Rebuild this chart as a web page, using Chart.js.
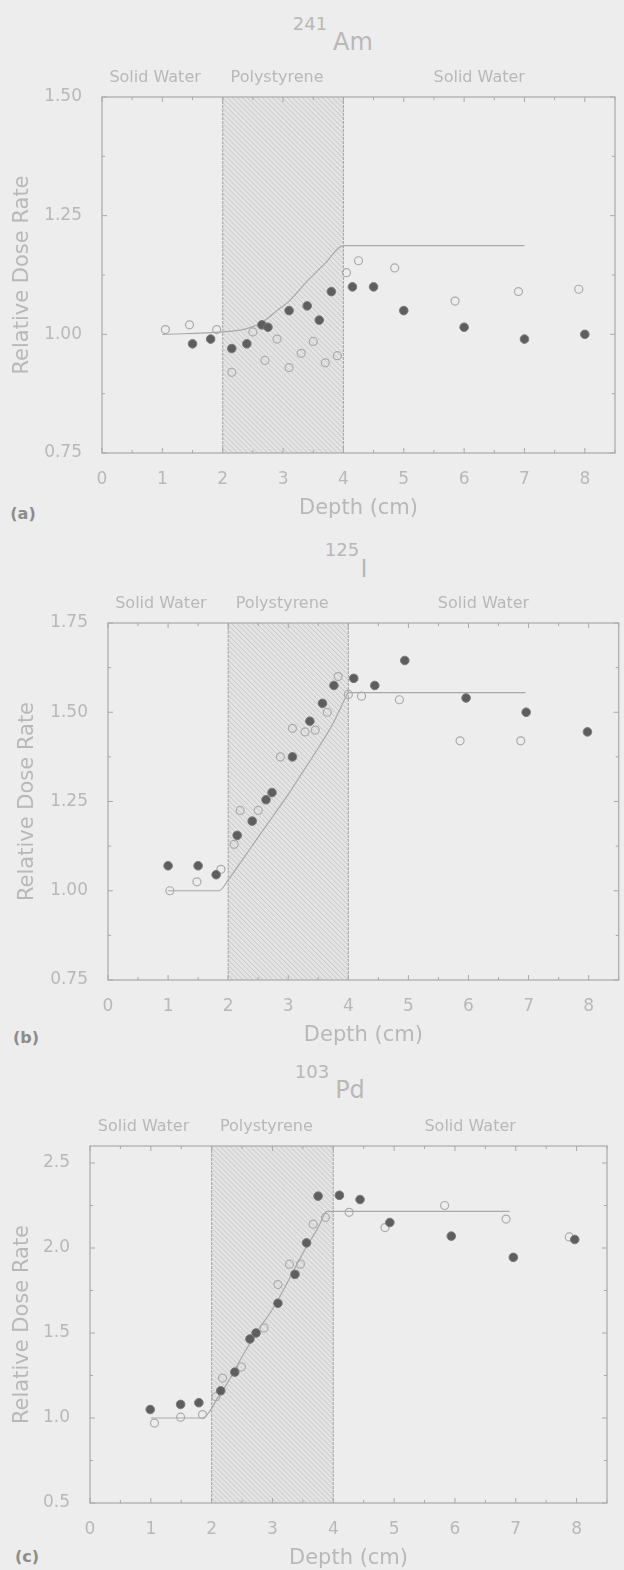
<!DOCTYPE html>
<html>
<head>
<meta charset="utf-8">
<script src="https://cdn.jsdelivr.net/npm/chart.js@4.4.1/dist/chart.umd.min.js"></script>
<style>
  html, body { margin: 0; padding: 0; }
  body {
    width: 624px; height: 1570px; overflow: hidden; position: relative;
    background: #ededed; font-family: "DejaVu Sans", sans-serif; color: #b8b8b8;
  }
  canvas { position: absolute; left: 0; }
  .txt { position: absolute; transform: translate(-50%, -50%); white-space: nowrap; line-height: 1; }
  .iso { font-size: 18px; }
  .sym { font-size: 24px; }
  .letter { font-size: 16px; font-weight: bold; color: #8c8c8c; }
</style>
</head>
<body>
<div class="txt iso" style="left:310px;top:24px">241</div>
<div class="txt sym" style="left:353px;top:42px">Am</div>
<div class="txt letter" style="left:23px;top:514px">(a)</div>

<div class="txt iso" style="left:342px;top:550px">125</div>
<div class="txt sym" style="left:364px;top:569px">I</div>
<div class="txt letter" style="left:26px;top:1038px">(b)</div>

<div class="txt iso" style="left:312px;top:1072px">103</div>
<div class="txt sym" style="left:350px;top:1090px">Pd</div>
<div class="txt letter" style="left:27px;top:1557px">(c)</div>

<canvas id="chartA" width="624" height="463" style="top:60px"></canvas>
<canvas id="chartB" width="624" height="460" style="top:590px"></canvas>
<canvas id="chartC" width="624" height="463" style="top:1110px"></canvas>

<script>
// region layout shared by all three phantoms
const regionNames = ["Solid Water", "Polystyrene", "Solid Water"];
const regionLabelDepth = [0.88, 2.9, 6.25];
const polystyreneBand = [2, 4];

// 241Am
const amFilledDepth = [1.5, 1.8, 2.15, 2.4, 2.65, 2.75, 3.1, 3.4, 3.6, 3.8, 4.15, 4.5, 5.0, 6.0, 7.0, 8.0];
const amFilledDose = [0.98, 0.99, 0.97, 0.98, 1.02, 1.015, 1.05, 1.06, 1.03, 1.09, 1.10, 1.10, 1.05, 1.015, 0.99, 1.00];
const amOpenDepth = [1.05, 1.45, 1.9, 2.15, 2.5, 2.7, 2.9, 3.1, 3.3, 3.5, 3.7, 3.9, 4.05, 4.25, 4.85, 5.85, 6.9, 7.9];
const amOpenDose = [1.01, 1.02, 1.01, 0.92, 1.005, 0.945, 0.99, 0.93, 0.96, 0.985, 0.94, 0.955, 1.13, 1.155, 1.14, 1.07, 1.09, 1.095];
const amCurveDepth = [1.0, 2.0, 2.4, 2.65, 2.9, 3.1, 3.4, 3.7, 4.0, 7.0];
const amCurveDose = [1.0, 1.005, 1.012, 1.025, 1.05, 1.07, 1.112, 1.15, 1.187, 1.187];

// 125I
const iFilledDepth = [1.0, 1.5, 1.8, 2.15, 2.4, 2.63, 2.73, 3.07, 3.36, 3.57, 3.76, 4.09, 4.44, 4.94, 5.96, 6.96, 7.98];
const iFilledDose = [1.07, 1.07, 1.045, 1.155, 1.195, 1.255, 1.275, 1.375, 1.475, 1.525, 1.575, 1.595, 1.575, 1.645, 1.54, 1.50, 1.445];
const iOpenDepth = [1.03, 1.48, 1.88, 2.1, 2.2, 2.5, 2.87, 3.07, 3.28, 3.45, 3.65, 3.83, 4.0, 4.22, 4.85, 5.86, 6.87];
const iOpenDose = [1.0, 1.025, 1.06, 1.13, 1.225, 1.225, 1.375, 1.455, 1.445, 1.45, 1.50, 1.60, 1.55, 1.545, 1.535, 1.42, 1.42];
const iCurveDepth = [1.0, 1.85, 2.0, 2.25, 2.5, 2.75, 3.0, 3.25, 3.5, 3.75, 3.95, 4.0, 6.95];
const iCurveDose = [1.0, 1.0, 1.03, 1.09, 1.15, 1.21, 1.27, 1.335, 1.40, 1.47, 1.54, 1.555, 1.555];

// 103Pd
const pdFilledDepth = [0.99, 1.49, 1.79, 2.15, 2.38, 2.63, 2.73, 3.09, 3.37, 3.56, 3.75, 4.10, 4.44, 4.93, 5.94, 6.96, 7.97];
const pdFilledDose = [1.05, 1.08, 1.09, 1.16, 1.27, 1.465, 1.50, 1.675, 1.845, 2.03, 2.305, 2.31, 2.285, 2.15, 2.07, 1.945, 2.05];
const pdOpenDepth = [1.06, 1.49, 1.85, 2.07, 2.18, 2.49, 2.86, 3.09, 3.28, 3.46, 3.67, 3.87, 4.1, 4.26, 4.85, 5.83, 6.84, 7.88];
const pdOpenDose = [0.97, 1.005, 1.02, 1.125, 1.235, 1.30, 1.53, 1.785, 1.905, 1.905, 2.14, 2.18, 2.31, 2.21, 2.12, 2.25, 2.17, 2.065];
const pdCurveDepth = [1.0, 1.85, 1.95, 2.1, 2.25, 2.5, 2.75, 3.0, 3.25, 3.5, 3.75, 3.9, 4.0, 6.9];
const pdCurveDose = [1.0, 1.0, 1.03, 1.12, 1.2, 1.36, 1.51, 1.64, 1.80, 1.97, 2.12, 2.215, 2.215, 2.215];

const TEXT = "#b8b8b8";
const LINE = "#a9a9a9";

const toPoints = (xs, ys) => xs.map((x, i) => ({ x: x, y: ys[i] }));

// hatched polystyrene slab, frame box, inward ticks, region names
const panelFrame = {
    id: "panelFrame",
    beforeDatasetsDraw(chart, args, opts) {
        const ctx = chart.ctx;
        const a = chart.chartArea;
        const xs = chart.scales.x, ys = chart.scales.y;
        const x1 = xs.getPixelForValue(opts.band[0]);
        const x2 = xs.getPixelForValue(opts.band[1]);
        const h = a.bottom - a.top;

        ctx.save();
        ctx.beginPath();
        ctx.rect(x1, a.top, x2 - x1, h);
        ctx.clip();
        ctx.fillStyle = "#e4e4e4";
        ctx.fillRect(x1, a.top, x2 - x1, h);
        ctx.strokeStyle = "#c2c2c2";
        ctx.lineWidth = 0.9;
        ctx.beginPath();
        for (let s = x1 - h; s < x2; s += 5) {
            ctx.moveTo(s, a.top);
            ctx.lineTo(s + h, a.bottom);
        }
        ctx.stroke();
        ctx.restore();

        ctx.save();
        ctx.strokeStyle = "#a3a3a3";
        ctx.lineWidth = 1;
        ctx.setLineDash([3, 1]);
        ctx.beginPath();
        ctx.moveTo(x1, a.top); ctx.lineTo(x1, a.bottom);
        ctx.moveTo(x2, a.top); ctx.lineTo(x2, a.bottom);
        ctx.stroke();
        ctx.setLineDash([]);

        ctx.strokeStyle = LINE;
        ctx.lineWidth = 1.2;
        ctx.strokeRect(a.left, a.top, a.right - a.left, h);

        // inward tick marks
        ctx.lineWidth = 1;
        ctx.beginPath();
        const ystep = opts.yStep / 2;
        for (let i = 0, v = ys.min; v <= ys.max + 1e-9; i++, v = ys.min + i * ystep) {
            const p = ys.getPixelForValue(v);
            const len = i % 2 === 0 ? 5 : 3;
            ctx.moveTo(a.left, p); ctx.lineTo(a.left + len, p);
            ctx.moveTo(a.right, p); ctx.lineTo(a.right - len, p);
        }
        for (let i = 0, v = 0; v <= xs.max + 1e-9; i++, v = i * 0.5) {
            const p = xs.getPixelForValue(v);
            const len = i % 2 === 0 ? 5 : 3;
            ctx.moveTo(p, a.bottom); ctx.lineTo(p, a.bottom - len);
            ctx.moveTo(p, a.top); ctx.lineTo(p, a.top + len);
        }
        ctx.stroke();

        // region names above the box
        ctx.fillStyle = TEXT;
        ctx.font = "16px 'DejaVu Sans'";
        ctx.textAlign = "center";
        ctx.textBaseline = "middle";
        regionNames.forEach((name, i) => {
            ctx.fillText(name, xs.getPixelForValue(opts.labelDepth[i]), a.top - 19);
        });
        ctx.restore();
    }
};

function makePanel(id, cfg) {
    const canvas = document.getElementById(id);
    return new Chart(canvas, {
        type: "scatter",
        data: {
            datasets: [{
                data: toPoints(cfg.filledX, cfg.filledY),
                pointRadius: 4.3,
                pointBackgroundColor: "#5e5e5e",
                pointBorderColor: "#7a7a7a",
                pointBorderWidth: 1
            }, {
                data: toPoints(cfg.openX, cfg.openY),
                pointRadius: 4,
                pointBackgroundColor: "rgba(0,0,0,0)",
                pointBorderColor: "#ababab",
                pointBorderWidth: 1.2
            }, {
                data: toPoints(cfg.curveX, cfg.curveY),
                showLine: true,
                pointRadius: 0,
                borderColor: LINE,
                borderWidth: 1.2,
                cubicInterpolationMode: "monotone"
            }]
        },
        options: {
            responsive: false,
            animation: false,
            layout: { padding: { top: cfg.padTop, right: cfg.padRight, left: 4, bottom: 0 } },
            plugins: {
                legend: { display: false },
                tooltip: { enabled: false },
                panelFrame: { band: polystyreneBand, labelDepth: regionLabelDepth, yStep: cfg.yStep }
            },
            scales: {
                x: {
                    type: "linear",
                    min: 0,
                    max: 8.5,
                    grid: { display: false },
                    border: { display: false },
                    ticks: {
                        stepSize: 1,
                        includeBounds: false,
                        color: TEXT,
                        padding: 8,
                        font: { family: "DejaVu Sans", size: 17 }
                    },
                    title: {
                        display: true,
                        text: "Depth (cm)",
                        color: TEXT,
                        padding: { top: 0, bottom: 1.4 },
                        font: { family: "DejaVu Sans", size: 21 }
                    },
                    afterFit(s) { s.height = 70; }
                },
                y: {
                    type: "linear",
                    min: cfg.yMin,
                    max: cfg.yMax,
                    grid: { display: false },
                    border: { display: false },
                    ticks: {
                        stepSize: cfg.yStep,
                        includeBounds: false,
                        color: TEXT,
                        padding: 12,
                        font: { family: "DejaVu Sans", size: 17 },
                        callback: (v) => v.toFixed(cfg.digits)
                    },
                    title: {
                        display: true,
                        text: "Relative Dose Rate",
                        color: TEXT,
                        padding: { top: cfg.titlePad, bottom: 0 },
                        font: { family: "DejaVu Sans", size: 21 }
                    },
                    afterFit(s) { s.width = cfg.yWidth; }
                }
            }
        },
        plugins: [panelFrame]
    });
}

document.addEventListener("DOMContentLoaded", () => {
    makePanel("chartA", {
        filledX: amFilledDepth, filledY: amFilledDose,
        openX: amOpenDepth, openY: amOpenDose,
        curveX: amCurveDepth, curveY: amCurveDose,
        yMin: 0.75, yMax: 1.5, yStep: 0.25, digits: 2,
        padTop: 37, padRight: 9, yWidth: 98, titlePad: 6
    });
    makePanel("chartB", {
        filledX: iFilledDepth, filledY: iFilledDose,
        openX: iOpenDepth, openY: iOpenDose,
        curveX: iCurveDepth, curveY: iCurveDose,
        yMin: 0.75, yMax: 1.75, yStep: 0.25, digits: 2,
        padTop: 33, padRight: 3, yWidth: 104, titlePad: 11
    });
    makePanel("chartC", {
        filledX: pdFilledDepth, filledY: pdFilledDose,
        openX: pdOpenDepth, openY: pdOpenDose,
        curveX: pdCurveDepth, curveY: pdCurveDose,
        yMin: 0.5, yMax: 2.6, yStep: 0.5, digits: 1,
        padTop: 36, padRight: 17, yWidth: 86, titlePad: 6
    });
});
</script>
</body>
</html>
